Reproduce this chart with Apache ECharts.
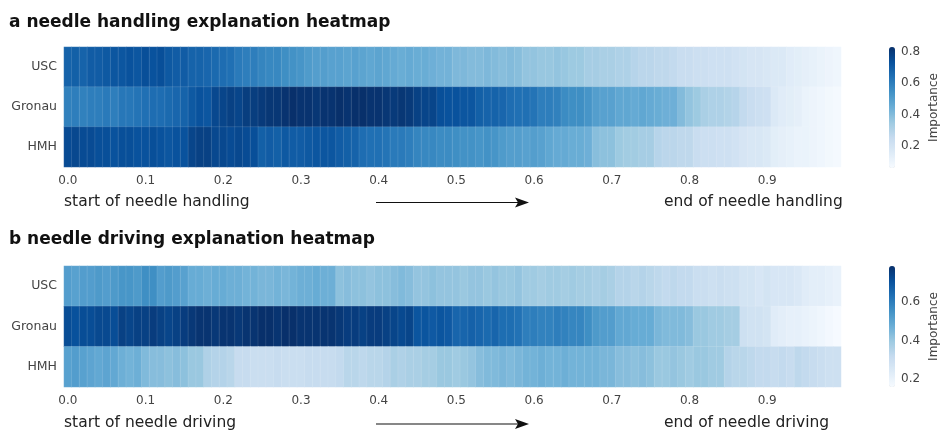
<!DOCTYPE html>
<html><head><meta charset="utf-8">
<script src="https://cdn.jsdelivr.net/npm/echarts@6/dist/echarts.min.js"></script>
<style>html,body{margin:0;padding:0;background:#fff}#c{width:941px;height:432px}</style>
</head><body><div id="c"></div><script>
const rows = ['USC', 'Gronau', 'HMH'];
const xTickLabels = ['0.0','0.1','0.2','0.3','0.4','0.5','0.6','0.7','0.8','0.9'];
const colorbarTicksA = [0.2, 0.4, 0.6, 0.8];
const colorbarTicksB = [0.2, 0.4, 0.6];

// a: needle handling
const handlingUSC = [0.68,0.69,0.68,0.70,0.70,0.71,0.72,0.72,0.73,0.72,0.74,0.73,0.74,0.71,0.70,0.70,0.68,0.68,0.67,0.66,0.65,0.64,0.61,0.60,0.60,0.58,0.57,0.57,0.55,0.54,0.53,0.51,0.50,
 0.50,0.49,0.49,0.48,0.49,0.48,0.47,0.48,0.47,0.46,0.45,0.46,0.45,0.45,0.44,0.43,0.43,0.41,0.41,0.40,0.40,0.41,0.40,0.39,0.40,0.39,0.37,0.37,0.36,0.36,0.37,0.36,0.35,0.35,
 0.33,0.33,0.32,0.32,0.31,0.31,0.29,0.28,0.28,0.27,0.27,0.26,0.24,0.24,0.23,0.23,0.22,0.22,0.22,0.21,0.20,0.19,0.19,0.18,0.17,0.17,0.15,0.14,0.13,0.12,0.11,0.10,0.09];
const handlingGronau = [0.59,0.60,0.59,0.60,0.60,0.61,0.60,0.62,0.62,0.63,0.64,0.65,0.65,0.66,0.67,0.68,0.71,0.73,0.72,0.76,0.77,0.78,0.77,0.79,0.79,0.80,0.81,0.81,0.82,0.83,0.82,0.82,0.81,
 0.82,0.82,0.83,0.82,0.83,0.83,0.82,0.82,0.81,0.80,0.81,0.80,0.78,0.77,0.77,0.74,0.73,0.73,0.72,0.72,0.69,0.68,0.68,0.67,0.65,0.64,0.64,0.63,0.60,0.60,0.59,0.56,0.55,0.55,
 0.53,0.50,0.49,0.49,0.47,0.47,0.46,0.47,0.46,0.45,0.44,0.44,0.40,0.37,0.35,0.32,0.31,0.31,0.30,0.29,0.26,0.24,0.23,0.22,0.17,0.15,0.14,0.13,0.11,0.10,0.09,0.08,0.07];
const handlingHMH = [0.75,0.76,0.75,0.75,0.74,0.74,0.73,0.74,0.74,0.73,0.73,0.74,0.73,0.72,0.73,0.73,0.77,0.78,0.78,0.76,0.76,0.75,0.76,0.75,0.74,0.69,0.70,0.69,0.71,0.70,0.70,0.71,0.72,
 0.72,0.72,0.70,0.69,0.68,0.65,0.64,0.64,0.63,0.61,0.61,0.60,0.58,0.57,0.57,0.56,0.56,0.55,0.54,0.54,0.53,0.54,0.53,0.51,0.50,0.50,0.49,0.50,0.49,0.47,0.46,0.46,0.45,0.45,
 0.44,0.39,0.38,0.38,0.35,0.34,0.34,0.33,0.33,0.29,0.28,0.28,0.27,0.27,0.24,0.23,0.23,0.22,0.22,0.21,0.19,0.18,0.18,0.17,0.14,0.13,0.12,0.11,0.11,0.10,0.09,0.08,0.07];

// b: needle driving
const drivingUSC = [0.52,0.51,0.52,0.52,0.53,0.52,0.53,0.54,0.54,0.53,0.56,0.56,0.52,0.53,0.52,0.51,0.48,0.48,0.47,0.48,0.48,0.47,0.47,0.46,0.46,0.45,0.45,0.46,0.45,0.46,0.47,0.47,0.48,
 0.47,0.47,0.42,0.43,0.42,0.42,0.41,0.42,0.42,0.43,0.44,0.43,0.41,0.41,0.42,0.41,0.41,0.41,0.40,0.41,0.41,0.40,0.41,0.40,0.40,0.41,0.39,0.39,0.38,0.39,0.39,0.38,0.39,0.38,
 0.38,0.37,0.38,0.37,0.35,0.35,0.34,0.35,0.34,0.33,0.32,0.33,0.32,0.32,0.30,0.30,0.29,0.30,0.29,0.29,0.27,0.27,0.26,0.27,0.26,0.26,0.26,0.25,0.23,0.22,0.22,0.21,0.20];
const drivingGronau = [0.72,0.71,0.72,0.72,0.73,0.73,0.72,0.75,0.74,0.75,0.75,0.76,0.75,0.74,0.75,0.76,0.77,0.78,0.78,0.77,0.78,0.78,0.77,0.78,0.78,0.79,0.79,0.78,0.79,0.79,0.78,0.78,0.78,
 0.78,0.78,0.77,0.76,0.76,0.75,0.76,0.76,0.75,0.74,0.73,0.74,0.70,0.70,0.69,0.70,0.69,0.66,0.66,0.67,0.66,0.65,0.66,0.64,0.64,0.63,0.60,0.60,0.59,0.59,0.60,0.59,0.58,0.58,
 0.56,0.53,0.52,0.52,0.49,0.49,0.48,0.48,0.48,0.45,0.44,0.44,0.44,0.43,0.40,0.40,0.39,0.39,0.38,0.38,0.29,0.28,0.28,0.27,0.23,0.22,0.21,0.21,0.20,0.19,0.18,0.17,0.16];
const drivingHMH = [0.51,0.52,0.51,0.50,0.49,0.50,0.49,0.47,0.46,0.47,0.44,0.43,0.43,0.42,0.43,0.42,0.40,0.40,0.36,0.35,0.35,0.34,0.31,0.31,0.30,0.30,0.30,0.31,0.30,0.30,0.30,0.31,0.31,
 0.31,0.31,0.32,0.34,0.34,0.33,0.34,0.34,0.35,0.37,0.36,0.37,0.37,0.38,0.38,0.40,0.40,0.39,0.40,0.41,0.43,0.44,0.44,0.45,0.44,0.45,0.46,0.46,0.47,0.46,0.46,0.47,0.46,0.46,
 0.46,0.46,0.45,0.45,0.43,0.43,0.42,0.43,0.42,0.40,0.40,0.41,0.40,0.39,0.40,0.40,0.39,0.39,0.35,0.34,0.34,0.33,0.32,0.32,0.31,0.32,0.31,0.33,0.32,0.31,0.30,0.29,0.29];

const rangeA = [0.06, 0.83];
const rangeB = [0.156, 0.79];
const blues = ['#f7fbff','#deebf7','#c6dbef','#9ecae1','#6baed6','#4292c6','#2171b5','#08519c','#08306b'];

const categories = [];
for (let i = 0; i < handlingUSC.length; i++) categories.push((i / 100).toFixed(2));
function toCells(list) {
  const out = [];
  list.forEach((arr, r) => arr.forEach((v, i) => out.push([i, r, v])));
  return out;
}
const FONT = 'DejaVu Sans';
const chart = echarts.init(document.getElementById('c'), null, {renderer: 'canvas'});

function heatX(gi) {
  return {
    type: 'category', gridIndex: gi, data: categories,
    axisLine: {show: false}, axisTick: {show: false}, splitArea: {show: false},
    axisLabel: {interval: 9, color: '#444', fontSize: 12, fontFamily: FONT, margin: 8,
      formatter: (v, idx) => xTickLabels[Math.round(idx / 10)]}
  };
}
function heatY(gi) {
  return {
    type: 'category', gridIndex: gi, data: rows, inverse: true,
    axisLine: {show: false}, axisTick: {show: false}, splitArea: {show: false},
    axisLabel: {color: '#444', fontSize: 12.5, fontFamily: FONT, margin: 7}
  };
}
function cbY(gi, range, ticks) {
  return {
    type: 'value', gridIndex: gi, position: 'right', min: range[0], max: range[1],
    axisLine: {show: false}, splitLine: {show: false},
    axisTick: {show: true, length: 4, customValues: ticks, lineStyle: {color: '#444', width: 1}},
    axisLabel: {customValues: ticks, color: '#444', fontSize: 12, fontFamily: FONT, margin: 7,
      formatter: v => v.toFixed(1)},
    name: 'Importance', nameLocation: 'middle', nameRotate: 90, nameGap: 34,
    nameTextStyle: {color: '#444', fontSize: 12, fontFamily: FONT}
  };
}
const cellStyle = {borderColor: 'rgba(255,255,255,0.16)', borderWidth: 0.7};

function arrow(y) {
  return [
    {type: 'line', shape: {x1: 376, y1: y, x2: 518, y2: y}, style: {stroke: '#111', lineWidth: 1.2}},
    {type: 'polygon', shape: {points: [[529, y], [515, y - 5], [518, y], [515, y + 5]]}, style: {fill: '#111'}}
  ];
}
function label(x, y, text) {
  return {type: 'text', x: x, y: y, style: {text: text, fill: '#222', fontSize: 15.5, fontFamily: FONT,
    textAlign: 'left', textVerticalAlign: 'middle', verticalAlign: 'middle'}};
}

chart.setOption({
  animation: false,
  backgroundColor: '#fff',
  title: [
    {text: 'a needle handling explanation heatmap', left: 9, top: 14, padding: 0,
     textStyle: {fontFamily: FONT, fontWeight: 'bold', fontSize: 17, color: '#111'}},
    {text: 'b needle driving explanation heatmap', left: 9, top: 231, padding: 0,
     textStyle: {fontFamily: FONT, fontWeight: 'bold', fontSize: 17, color: '#111'}}
  ],
  grid: [
    {left: 64, top: 47, width: 777, height: 120},
    {left: 64, top: 266, width: 777, height: 121},
    {left: 889, top: 47, width: 6, height: 121},
    {left: 889, top: 266, width: 6, height: 121}
  ],
  xAxis: [heatX(0), heatX(1),
    {type: 'value', gridIndex: 2, show: false}, {type: 'value', gridIndex: 3, show: false}],
  yAxis: [heatY(0), heatY(1), cbY(2, rangeA, colorbarTicksA), cbY(3, rangeB, colorbarTicksB)],
  visualMap: [
    {type: 'continuous', seriesIndex: 0, min: rangeA[0], max: rangeA[1], calculable: false,
     inRange: {color: blues}, orient: 'vertical', left: 889, top: 47, itemWidth: 6, itemHeight: 121,
     padding: 0, hoverLink: false},
    {type: 'continuous', seriesIndex: 1, min: rangeB[0], max: rangeB[1], calculable: false,
     inRange: {color: blues}, orient: 'vertical', left: 889, top: 266, itemWidth: 6, itemHeight: 121,
     padding: 0, hoverLink: false}
  ],
  series: [
    {type: 'heatmap', xAxisIndex: 0, yAxisIndex: 0, itemStyle: cellStyle,
     data: toCells([handlingUSC, handlingGronau, handlingHMH])},
    {type: 'heatmap', xAxisIndex: 1, yAxisIndex: 1, itemStyle: cellStyle,
     data: toCells([drivingUSC, drivingGronau, drivingHMH])}
  ],
  graphic: [
    label(64, 202, 'start of needle handling'),
    label(664, 202, 'end of needle handling'),
    ...arrow(202.5),
    label(64, 423, 'start of needle driving'),
    label(664, 423, 'end of needle driving'),
    ...arrow(424)
  ]
});
</script></body></html>
